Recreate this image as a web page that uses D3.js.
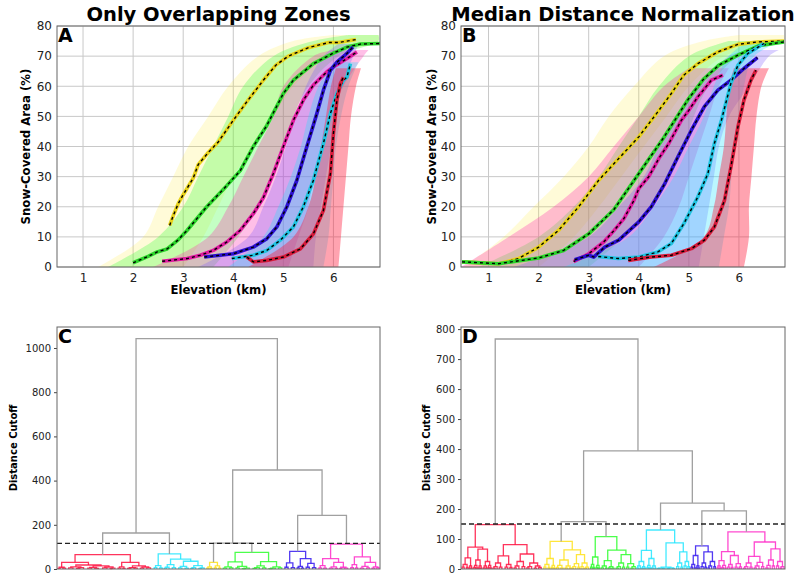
<!DOCTYPE html>
<html>
<head>
<meta charset="utf-8">
<script src="https://cdn.jsdelivr.net/npm/d3@7"></script>
<style>
  body { margin: 0; background: #fff; }
  text { font-family: "DejaVu Sans", sans-serif; }
</style>
</head>
<body>
<script>
/* snow-covered area curves + dendrograms */

// tick labels
const elevTicks = [1, 2, 3, 4, 5, 6];
const scaTicks = [0, 10, 20, 30, 40, 50, 60, 70, 80];
const distTicksC = [0, 200, 400, 600, 800, 1000];
const distTicksD = [0, 100, 200, 300, 400, 500, 600, 700, 800];
const clusterNames = ["yellow", "green", "magenta", "blue", "cyan", "red"];

// median curves [elevation km, SCA %] - panel A
const medA_yellow = [[2.73,13.8],[2.8,17],[2.9,21],[3.0,24],[3.2,29.5],[3.3,34],[3.5,38],[3.7,41.5],[4.0,48.7],[4.3,55.5],[4.6,62],[4.85,67],[5.1,70],[5.5,72.8],[5.9,74.5],[6.1,74.5],[6.45,75.5]];
const medA_green = [[2.0,1.4],[2.3,3.5],[2.48,5],[2.68,6],[2.9,9],[3.08,12.2],[3.47,20],[3.87,27],[4.14,32],[4.4,40],[4.67,47],[5.0,57.6],[5.2,62],[5.6,67.5],[6.0,71],[6.27,73],[6.54,74],[6.93,74.2]];
const medA_magenta = [[2.58,1.9],[3.08,2.8],[3.34,3.9],[3.6,5.5],[3.87,8.3],[4.14,12.2],[4.4,17.7],[4.6,23],[4.8,31],[5.0,40],[5.2,48.7],[5.4,55.4],[5.6,60.4],[5.87,64.8],[6.0,66.4],[6.27,69.2],[6.47,71.4]];
const medA_blue = [[3.42,3.3],[4.0,4.4],[4.4,6.6],[4.67,9.4],[4.87,13.3],[5.07,20],[5.27,28.8],[5.47,40],[5.67,51],[5.8,58.7],[5.94,65.3],[6.07,68],[6.27,70.9],[6.39,73]];
const medA_cyan = [[3.97,2.8],[4.4,3.9],[4.67,5.5],[4.94,8.9],[5.2,13.3],[5.4,20],[5.6,28.8],[5.8,41],[5.94,51],[6.07,57.6],[6.2,62],[6.27,63],[6.34,67.5]];
const medA_red = [[4.27,3.3],[4.4,1.7],[4.67,2.2],[5.0,3.3],[5.34,6],[5.6,11],[5.8,18.8],[5.94,31],[6.0,44.3],[6.07,55.4],[6.14,61],[6.2,63]];

// median curves - panel B
const medB_yellow = [[0.47,1.7],[1.2,1.1],[1.6,2.8],[2.0,6.6],[2.4,12.2],[2.8,20],[3.2,28.8],[3.6,36],[4.0,43.2],[4.38,51.5],[4.65,57.6],[4.9,63.7],[5.18,67.5],[5.58,71.4],[5.98,73.9],[6.37,74.7],[6.9,75]];
const medB_green = [[0.47,1.7],[1.2,1.1],[2.0,3],[2.5,5.5],[3.0,11],[3.5,19],[4.0,31],[4.5,43],[5.0,56],[5.3,62.5],[5.6,67],[6.0,70.5],[6.4,73.5],[6.9,74.7]];
const medB_magenta = [[2.7,1.8],[3.0,4.4],[3.3,8.3],[3.5,12],[3.7,16],[3.9,22],[4.0,26],[4.2,30],[4.4,36],[4.6,41],[4.85,48.7],[5.0,52],[5.18,56.5],[5.45,62],[5.68,63.7]];
const medB_blue = [[2.72,2.4],[3.0,3.9],[3.1,3.3],[3.32,6.6],[3.6,8.9],[4.0,15],[4.25,20],[4.52,27.7],[4.78,36.5],[5.05,45.4],[5.31,53.2],[5.58,58.7],[5.84,62],[6.1,65.9],[6.37,69.5]];
const medB_cyan = [[3.19,3.5],[3.59,2.8],[4.0,3.3],[4.38,5],[4.65,7.8],[4.9,14.4],[5.18,23.3],[5.38,31],[5.51,41],[5.65,48.7],[5.84,61],[5.98,67],[6.18,70.9],[6.5,74.2]];
const medB_red = [[3.79,2.2],[4.25,3.3],[4.65,3.9],[5.05,6.1],[5.31,8.9],[5.51,13.3],[5.71,22],[5.84,33.2],[5.98,46.5],[6.1,55.4],[6.24,62],[6.34,65.3]];

// spread of the individual curves [SCA %, left km, right km]
const bandA_yellow = [[0,1.3,3.0],[10,2.2,3.4],[20,2.5,3.7],[30,2.8,4.0],[40,3.1,4.4],[50,3.5,4.8],[60,3.9,5.2],[70,4.5,5.9],[75,5.2,6.9],[77,6.0,6.9]];
const bandA_green = [[0,1.5,3.6],[10,2.5,4.1],[20,3.0,4.5],[30,3.3,4.8],[40,3.6,5.0],[50,3.9,5.2],[60,4.2,5.5],[70,4.8,6.1],[75,5.6,6.9],[77,6.3,6.9]];
const bandA_magenta = [[0,2.4,5.1],[10,3.5,5.3],[20,3.9,5.5],[30,4.2,5.6],[40,4.5,5.8],[50,4.8,5.95],[60,5.0,6.2],[70,5.6,6.6],[72,6.0,6.7]];
const bandA_blue = [[0,3.3,5.6],[10,4.3,5.65],[20,4.6,5.75],[30,4.85,5.85],[40,5.05,5.95],[50,5.25,6.05],[60,5.45,6.15],[70,5.8,6.4],[74,6.1,6.5]];
const bandA_cyan = [[0,3.9,5.8],[10,4.6,5.9],[20,4.9,5.95],[30,5.15,6.0],[40,5.35,6.05],[50,5.5,6.15],[60,5.7,6.3],[68,6.0,6.5]];
const bandA_red = [[0,4.3,6.1],[10,5.2,6.15],[20,5.5,6.2],[30,5.65,6.25],[40,5.75,6.3],[50,5.85,6.35],[60,5.95,6.45],[66,6.05,6.55]];

const bandB_yellow = [[0,0.5,2.0],[10,1.3,2.7],[20,1.9,3.2],[30,2.5,3.65],[40,3.0,4.1],[50,3.4,4.55],[60,3.9,5.0],[70,4.5,5.7],[75,5.3,6.9],[77,6.0,6.9]];
const bandB_green = [[0,0.8,3.0],[10,2.0,3.7],[20,2.7,4.2],[30,3.2,4.6],[40,3.6,4.9],[50,4.0,5.1],[60,4.4,5.4],[70,5.0,6.0],[75,5.8,6.9]];
const bandB_magenta = [[0,0.45,4.0],[10,1.4,4.5],[20,2.3,4.8],[30,3.0,5.0],[40,3.5,5.2],[50,4.0,5.4],[60,4.5,5.6],[66,5.0,5.8]];
const bandB_blue = [[0,1.5,5.2],[10,3.0,5.3],[20,3.6,5.4],[30,4.1,5.5],[40,4.4,5.6],[50,4.8,5.8],[60,5.2,6.2],[70,5.8,6.6],[72,6.2,6.8]];
const bandB_cyan = [[0,2.5,5.6],[10,3.8,5.7],[20,4.3,5.8],[30,4.7,5.85],[40,5.0,5.9],[50,5.3,6.0],[60,5.5,6.1],[70,5.8,6.3],[75,6.2,6.9]];
const bandB_red = [[0,4.3,6.1],[10,5.3,6.2],[20,5.5,6.2],[30,5.6,6.25],[40,5.7,6.3],[50,5.75,6.35],[60,5.8,6.45],[66,5.9,6.6]];

// dendrograms: node = [height, left, right], leaf = number of members
const redC = [65, [30, [8,[3,2,2],[4,3,2]], [18, [10,[5,4,4],[6,[3,3,3],4]], [14,[7,[4,4,3],[3,3,4]], [9,[5,4,4],[4,[2,2,2],3]]]]],
                  [30, [10,[4,3,2],[3,2,2]], [14,[6,[3,3,3],[4,3,3]],[9,[4,3,3],[5,3,4]]]]];
const cyanC = [68, [15,[6,3,2],[5,3,2]], [45, [20,[8,[4,2,2],3],[6,3,3]], [35,[12,[5,3,3],[4,3,3]],[15,[6,[3,2,2],3],[5,[3,3,2],3]]]]];
const yellowC = [30, [10,[4,2,2],[3,1,2]], [14,[5,2,2],[4,2,2]]];
const greenC = [75, [32, [10,[4,3,3],[5,3,3]], [12,[5,3,3],[4,[2,3,3],4]]], [33, [14,[6,[3,3,3],3],[5,3,3]], [10,[4,[2,3,3],3],[5,3,3]]]];
const blueC = [80, [28,[8,3,3],[6,3,3]], [47, [12,[5,2,2],[4,2,2]], [25,[8,3,3],[6,3,3]]]];
const magentaC = [113, [47, [15,[5,3,2],[4,2,3]], [30,[10,[4,3,3],[3,2,2]],[8,[3,2,2],[4,3,3]]]],
                       [55, [20,[6,3,2],[5,2,2]], [30,[12,[4,3,3],[5,3,2]],[10,[4,3,2],[6,2,2]]]]];
const linkC = [1042, [163, "red", "cyan"], [448, [117, "yellow", "green"], [243, "blue", "magenta"]]];

const redD = [148, [73, [37,[15,[6,2,2],[5,2,1]],[10,[4,1,1],[3,1,1]]],
                        [66,[30,[12,[5,2,1],[4,1,1]],[10,[4,1,1],[3,1,1]]],[25,[10,[4,2,1],[3,1,1]],[12,[5,1,1],[4,1,1]]]]],
                   [81, [44,[20,[8,[3,2,2],2],[6,2,3]],[15,[6,3,2],[5,2,2]]],
                        [50,[25,[10,[4,2,2],3],[8,3,2]],[20,[8,[4,2,2],3],[10,[3,2,2],[5,2,3]]]]]];
const yellowD = [92, [35,[15,[6,2,2],[5,2,1]],[12,[5,2,1],[4,1,1]]],
                     [64, [30,[12,[5,2,2],[4,2,2]],[10,[4,2,2],[4,2,1]]], [48,[18,[8,[3,1,2],2],[6,2,1]],[20,[8,2,2],[6,[3,1,2],2]]]]];
const greenD = [108, [40,[15,[6,2,1],[5,1,1]],[12,[5,2,1],[4,1,1]]],
                     [63, [28,[10,[4,2,2],[3,2,1]],[8,[4,2,1],[3,2,2]]], [48,[20,[8,[3,2,2],2],[6,2,2]],[18,[6,2,2],[8,[3,2,2],2]]]]];
const cyanD = [130, [62, [25,[10,[4,1,2],[3,1,1]],[8,[3,1,1],[4,1,1]]], [35,[12,[5,2,1],[4,1,1]],[10,[4,1,2],[3,1,1]]]],
                    [87, [6,[3,[2,2,2],[2,3,2]],[4,[2,2,3],[2,2,2]]], [57,[20,[8,2,2],[6,2,1]],[25,[10,2,2],[8,1,2]]]]];
const blueD = [77, [45,[15,[6,1,2],[4,1,1]],[10,[4,1,1],[3,1,1]]], [57,[20,[8,2,2],[6,1,2]],[25,[10,[4,1,2],2],[8,2,1]]]];
const magentaD = [124, [58, [28,[10,[4,2,1],[3,1,1]],[12,[5,1,2],[4,1,1]]], [45,[15,[6,2,2],[5,1,2]],[18,[6,2,2],[7,[3,1,1],2]]]],
                       [90, [42,[20,[8,[3,2,2],2],[6,2,2]],[22,[10,[4,2,2],3],[8,2,2]]], [67,[30,[12,[4,2,2],2],[10,2,2]],[25,[10,2,2],[8,[3,1,2],2]]]]];
const linkD = [767, "red", [394, [158, "yellow", "green"], [220, "cyan", [194, "blue", "magenta"]]]];

// colours
const bandColor = {yellow: "#ffe81a", green: "#3dff3d", magenta: "#ff2ab0", blue: "#7a55ff", cyan: "#1fe0ff", red: "#ff1a3a"};
const bandAlpha = {yellow: 0.17, green: 0.3, magenta: 0.3, blue: 0.28, cyan: 0.3, red: 0.4};
const medColor = {yellow: "#e8d21a", green: "#2ad42a", magenta: "#e01aa0", blue: "#2a0fcf", cyan: "#1fc4e0", red: "#d81a3a"};
const treeColor = {yellow: "#ffe21a", green: "#2bff2b", magenta: "#ff2ac8", blue: "#3418f0", cyan: "#22e6ff", red: "#ff1040"};
const gray = "#a0a0a0";

const W = 796, H = 574;
const svg = d3.select("body").append("svg")
    .attr("width", W)
    .attr("height", H);

function CurvePanel(box, title, letter, medians, bands, xDomain, labelGap) {
    let obj = {};
    let g, x, y;

    obj.setUp = () => {
        g = svg.append("g");
        x = d3.scaleLinear().domain(xDomain).range([box.l, box.r]);
        y = d3.scaleLinear().domain([0, 80]).range([box.b, box.t]);
        obj.grid();
        obj.curves();
        obj.axes();
    };

    obj.grid = () => {
        g.selectAll(".gx").data(elevTicks).enter().append("line")
            .attr("x1", d => x(d)).attr("x2", d => x(d))
            .attr("y1", box.t).attr("y2", box.b)
            .attr("stroke", "#c8c8c8").attr("stroke-width", 1);
        g.selectAll(".gy").data(scaTicks).enter().append("line")
            .attr("y1", d => y(d)).attr("y2", d => y(d))
            .attr("x1", box.l).attr("x2", box.r)
            .attr("stroke", "#c8c8c8").attr("stroke-width", 1);
    };

    obj.curves = () => {
        const id = "clip" + letter;
        svg.append("clipPath").attr("id", id).append("rect")
            .attr("x", box.l).attr("y", box.t)
            .attr("width", box.r - box.l).attr("height", box.b - box.t);
        const c = g.append("g").attr("clip-path", "url(#" + id + ")");

        // band of all the single-year curves
        const area = d3.area()
            .y(d => y(d[0]))
            .x0(d => x(d[1]))
            .x1(d => x(d[2]))
            .curve(d3.curveCatmullRom);
        clusterNames.forEach(k => {
            c.append("path")
                .attr("d", area(bands[k]))
                .attr("fill", bandColor[k])
                .attr("fill-opacity", bandAlpha[k]);
        });

        // median curve: coloured line with black dashes on it
        const line = d3.line().x(d => x(d[0])).y(d => y(d[1]));
        clusterNames.forEach(k => {
            c.append("path").attr("d", line(medians[k]))
                .attr("fill", "none").attr("stroke", medColor[k])
                .attr("stroke-width", 3.6).attr("stroke-linejoin", "round");
            c.append("path").attr("d", line(medians[k]))
                .attr("fill", "none").attr("stroke", "#000")
                .attr("stroke-width", 1.4).attr("stroke-dasharray", "3,3");
        });
    };

    obj.axes = () => {
        const xa = g.append("g")
            .attr("transform", "translate(0," + box.b + ")")
            .call(d3.axisBottom(x).tickValues(elevTicks).tickSize(0).tickPadding(6).tickFormat(d3.format("d")));
        const ya = g.append("g")
            .attr("transform", "translate(" + box.l + ",0)")
            .call(d3.axisLeft(y).tickValues(scaTicks).tickSize(0).tickPadding(5).tickFormat(d3.format("d")));
        [xa, ya].forEach(a => {
            a.select(".domain").remove();
            a.selectAll("text").attr("font-size", 12).attr("fill", "#222");
        });

        g.append("rect")
            .attr("x", box.l).attr("y", box.t)
            .attr("width", box.r - box.l).attr("height", box.b - box.t)
            .attr("fill", "none").attr("stroke", "#666").attr("stroke-width", 1);

        g.append("text")
            .attr("x", (box.l + box.r) / 2).attr("y", 294)
            .attr("text-anchor", "middle")
            .attr("font-size", 11.7).attr("font-weight", "bold")
            .text("Elevation (km)");
        g.append("text")
            .attr("transform", "translate(" + (box.l - labelGap) + "," + ((box.t + box.b) / 2) + ") rotate(-90)")
            .attr("text-anchor", "middle")
            .attr("font-size", 11.7).attr("font-weight", "bold")
            .text("Snow-Covered Area (%)");
        g.append("text")
            .attr("x", (box.l + box.r) / 2).attr("y", 21)
            .attr("text-anchor", "middle")
            .attr("font-size", 19.5).attr("font-weight", "bold")
            .text(title);
        g.append("text")
            .attr("x", box.l + 1).attr("y", box.t + 16)
            .attr("font-size", 19).attr("font-weight", "bold")
            .text(letter);
    };

    return obj;
}

function TreePanel(box, letter, link, trees, yMax, ticks, cutoff, labelGap) {
    let obj = {};
    let g, x, y;
    let links = [];
    let pos = 0;

    const weight = n => {
        if (typeof n === "number") return n;
        if (typeof n === "string") return weight(trees[n]);
        return weight(n[1]) + weight(n[2]);
    };

    // scipy style layout: leaves side by side, node sits between its children
    const place = (n, color) => {
        if (typeof n === "string") return place(trees[n], treeColor[n]);
        if (typeof n === "number") {
            const cx = pos + n / 2;
            pos += n;
            return {x: cx, h: 0};
        }
        const a = place(n[1], color), b = place(n[2], color);
        links.push({a: a, b: b, h: n[0], color: color || gray});
        return {x: (a.x + b.x) / 2, h: n[0]};
    };

    obj.setUp = () => {
        g = svg.append("g");
        x = d3.scaleLinear().domain([0, weight(link)]).range([box.l, box.r]);
        y = d3.scaleLinear().domain([0, yMax]).range([box.b, box.t]);
        place(link, null);
        obj.links();
        obj.axes();
    };

    obj.links = () => {
        const sorted = links.filter(d => d.color !== gray).concat(links.filter(d => d.color === gray));
        g.selectAll(".link").data(sorted).enter().append("path")
            .attr("d", d => "M" + x(d.a.x) + "," + y(d.a.h) + "V" + y(d.h) + "H" + x(d.b.x) + "V" + y(d.b.h))
            .attr("fill", "none")
            .attr("stroke", d => d.color)
            .attr("stroke-opacity", d => d.color === gray ? 1 : 0.85)
            .attr("stroke-width", 1.3);

        g.append("line")
            .attr("x1", box.l).attr("x2", box.r)
            .attr("y1", y(cutoff)).attr("y2", y(cutoff))
            .attr("stroke", "#222").attr("stroke-width", 1.4)
            .attr("stroke-dasharray", "5,3");
    };

    obj.axes = () => {
        const ya = g.append("g")
            .attr("transform", "translate(" + box.l + ",0)")
            .call(d3.axisLeft(y).tickValues(ticks).tickSize(3).tickPadding(3).tickFormat(d3.format("d")));
        ya.select(".domain").remove();
        ya.selectAll("line").attr("stroke", "#444");
        ya.selectAll("text").attr("font-size", 10).attr("fill", "#222");

        g.append("rect")
            .attr("x", box.l).attr("y", box.t)
            .attr("width", box.r - box.l).attr("height", box.b - box.t)
            .attr("fill", "none").attr("stroke", "#666").attr("stroke-width", 1);

        g.append("text")
            .attr("transform", "translate(" + (box.l - labelGap) + "," + ((box.t + box.b) / 2) + ") rotate(-90)")
            .attr("text-anchor", "middle")
            .attr("font-size", 10).attr("font-weight", "bold")
            .text("Distance Cutoff");
        g.append("text")
            .attr("x", box.l + 1).attr("y", box.t + 16)
            .attr("font-size", 19).attr("font-weight", "bold")
            .text(letter);
    };

    return obj;
}

const panelA = CurvePanel({l: 57, r: 380, t: 26, b: 267}, "Only Overlapping Zones", "A",
    {yellow: medA_yellow, green: medA_green, magenta: medA_magenta, blue: medA_blue, cyan: medA_cyan, red: medA_red},
    {yellow: bandA_yellow, green: bandA_green, magenta: bandA_magenta, blue: bandA_blue, cyan: bandA_cyan, red: bandA_red},
    [0.48, 6.93], 27);
panelA.setUp();

const panelB = CurvePanel({l: 461, r: 785, t: 26, b: 267}, "Median Distance Normalization", "B",
    {yellow: medB_yellow, green: medB_green, magenta: medB_magenta, blue: medB_blue, cyan: medB_cyan, red: medB_red},
    {yellow: bandB_yellow, green: bandB_green, magenta: bandB_magenta, blue: bandB_blue, cyan: bandB_cyan, red: bandB_red},
    [0.45, 6.92], 25);
panelB.setUp();

const panelC = TreePanel({l: 57, r: 380, t: 327, b: 569}, "C", linkC,
    {red: redC, cyan: cyanC, yellow: yellowC, green: greenC, blue: blueC, magenta: magentaC},
    1095, distTicksC, 116, 40);
panelC.setUp();

const panelD = TreePanel({l: 461, r: 785, t: 327, b: 569}, "D", linkD,
    {red: redD, cyan: cyanD, yellow: yellowD, green: greenD, blue: blueD, magenta: magentaD},
    807, distTicksD, 150, 31);
panelD.setUp();
</script>
</body>
</html>
